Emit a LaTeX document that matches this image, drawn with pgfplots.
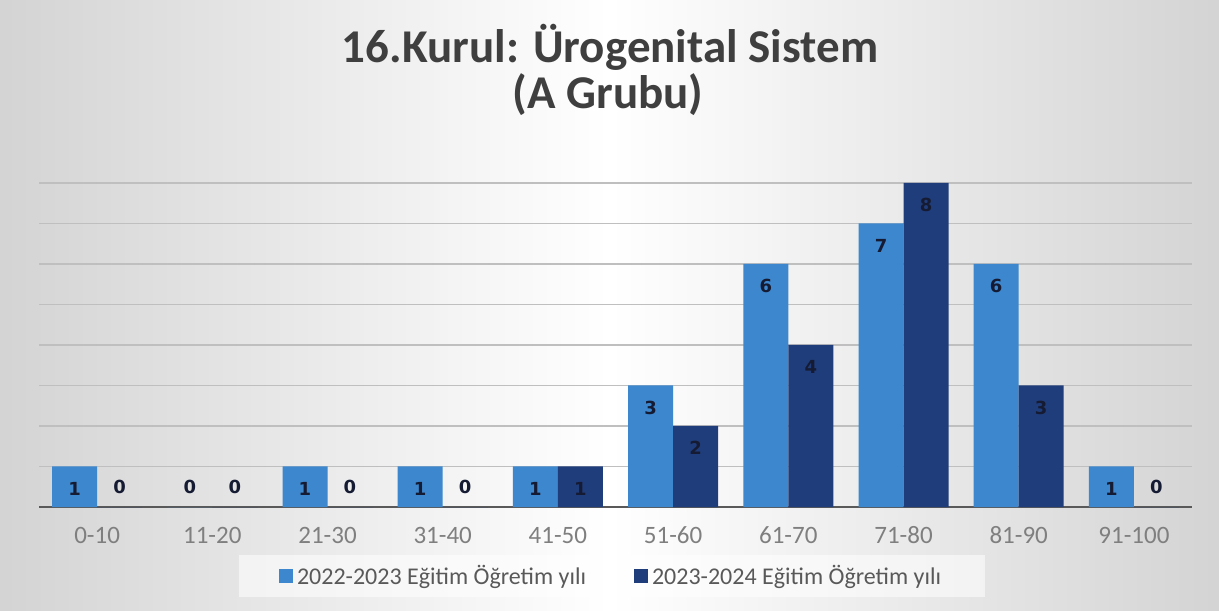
\documentclass[border=0pt]{standalone}
\usepackage{pgfplots}
\pgfplotsset{compat=1.18}
\usepackage{fontspec}
\setmainfont{Carlito}
\newfontfamily\dejab{DejaVu Sans}
\definecolor{cA}{HTML}{3D87CE}
\definecolor{cB}{HTML}{203D7B}
\definecolor{lbl}{HTML}{151B33}
\definecolor{ttl}{HTML}{3F3F3F}
\definecolor{tickc}{HTML}{7F7F7F}
\definecolor{legc}{HTML}{595959}
\definecolor{gridc}{HTML}{BFBFBF}
\definecolor{basec}{HTML}{595959}
\begin{document}
\begin{tikzpicture}
\shade[left color=gray!34,right color=gray!34,middle color=white] (0pt,0pt) rectangle (609.5pt,305pt);
\node[font=\bfseries\fontsize{23.5}{27}\selectfont, text=ttl] at (305pt,281.5pt) {16.Kurul: Ürogenital Sistem};
\node[font=\bfseries\fontsize{23.5}{27}\selectfont, text=ttl] at (304pt,257.5pt) {(A Grubu)};
\begin{axis}[
  at={(19.75pt,51.5pt)}, anchor=south west,
  scale only axis, width=576pt, height=162pt,
  ymin=0, ymax=8, xmin=-0.5, xmax=9.5,
  ybar=0pt, bar width=22.5pt,
  xtick={0,...,9},
  xticklabels={0-10,11-20,21-30,31-40,41-50,51-60,61-70,71-80,81-90,91-100},
  ytick={1,...,8}, yticklabels={},
  ymajorgrids, grid style={draw=gridc, line width=0.8pt},
  extra y ticks={0}, extra y tick labels={},
  extra y tick style={grid style={draw=basec, line width=1.1pt}},
  axis line style={draw=none},
  major tick length=0pt,
  xticklabel style={font=\fontsize{12.5}{14}\selectfont, text=tickc, anchor=center, yshift=-14pt},
  /pgf/number format/assume math mode=true,
  nodes near coords,
  visualization depends on={rawy \as \rawy},
  every node near coord/.append style={font=\dejab\bfseries\fontsize{9}{10}\selectfont, text=lbl, anchor=center, yshift={ifthenelse(\rawy>0,-11,10)}},
  legend style={at={(0.497,-0.213)}, anchor=center, legend columns=2, draw=none,
    fill=white, fill opacity=0.55, text opacity=1,
    font=\fontsize{12}{14}\selectfont, text=legc, inner xsep=20pt, inner ysep=3pt,
    /tikz/every even column/.append style={column sep=22pt}},
  legend image code/.code={\fill[#1, fill opacity=1] (0pt,-3.5pt) rectangle (7pt,3.5pt);},
]
\addplot[fill=cA, draw=none] coordinates {(0,1) (1,0) (2,1) (3,1) (4,1) (5,3) (6,6) (7,7) (8,6) (9,1)};
\addplot[fill=cB, draw=none] coordinates {(0,0) (1,0) (2,0) (3,0) (4,1) (5,2) (6,4) (7,8) (8,3) (9,0)};
\legend{2022-2023 Eğitim Öğretim yılı, 2023-2024 Eğitim Öğretim yılı}
\end{axis}
\end{tikzpicture}
\end{document}
